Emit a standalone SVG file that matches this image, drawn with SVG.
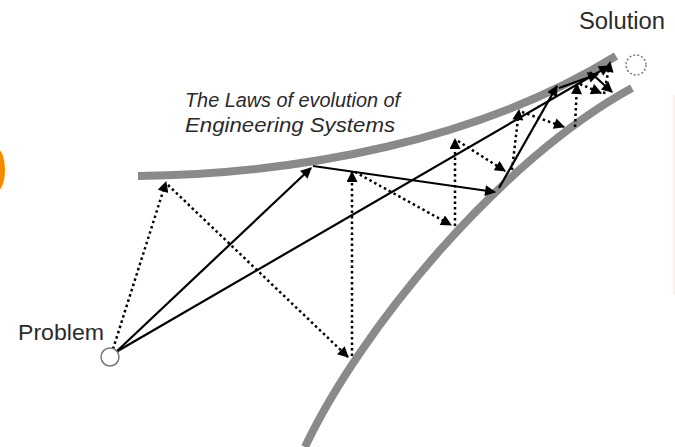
<svg xmlns="http://www.w3.org/2000/svg" width="675" height="447" viewBox="0 0 675 447">
  <style>
    .wall { fill: none; stroke: #8a8a8a; stroke-width: 8; stroke-linecap: butt; }
    .solid { fill: none; stroke: #000; stroke-width: 2.2; marker-end: url(#ah); }
    .dot { fill: none; stroke: #000; stroke-width: 2.5; stroke-dasharray: 2.5 3; marker-end: url(#ah); }
    .node { fill: #fff; stroke: #777; stroke-width: 1.5; }
    .lbl { font-family: "Liberation Sans", Arial, sans-serif; fill: #2a2a2a; }
  </style>
  <defs>
    <marker id="ah" viewBox="0 0 10 10" refX="9" refY="5" markerUnits="userSpaceOnUse" markerWidth="13" markerHeight="11" orient="auto">
      <path d="M0,0 L10,5 L0,10 z" fill="#000"/>
    </marker>
  </defs>
  <rect width="675" height="447" fill="#fff"/>
  <ellipse cx="-3" cy="170" rx="8" ry="21" fill="#f28a00"/>
  <rect x="673" y="95" width="2" height="200" fill="#fdf0ec"/>

  <g id="walls">
    <path id="upper-wall" class="wall" d="M138,176 C300,174 480,140 616,56"/>
    <path id="lower-wall" class="wall" d="M305,447 C360,330 500,160 632,88"/>
  </g>

  <g id="laws-label">
    <text class="lbl" x="185" y="107" font-size="20" font-style="italic" textLength="215" lengthAdjust="spacingAndGlyphs">The Laws of evolution of</text>
    <text class="lbl" x="185" y="132" font-size="20" font-style="italic" textLength="210" lengthAdjust="spacingAndGlyphs">Engineering Systems</text>
  </g>

  <g id="connectors">
    <!-- trial-and-error path (dotted) -->
    <path class="dot" d="M113,349 L166,182"/>
    <path class="dot" d="M168,185 L348,357"/>
    <path class="dot" d="M352,356 L352,172"/>
    <path class="dot" d="M355,172 L451,225"/>
    <path class="dot" d="M455,226 L455,139"/>
    <path class="dot" d="M458,141 L505,171"/>
    <path class="dot" d="M512,170 L519,110"/>
    <path class="dot" d="M522,112 L564,127"/>
    <path class="dot" d="M575,127 L577,84"/>
    <path class="dot" d="M580,84 L601,93"/>
    <path class="dot" d="M604,94 L610,62"/>
    <!-- directed path (solid) -->
    <path class="solid" d="M116,352 L311,168"/>
    <path class="solid" d="M116,352 L609,66"/>
    <path class="solid" d="M313,166 L495,192"/>
    <path class="solid" d="M499,188 L557,86"/>
    <path class="solid" d="M559,88 L598,74"/>
    <path class="solid" d="M590,72 L612,92"/>
  </g>

  <g id="problem">
    <circle class="node" cx="110" cy="357" r="9"/>
    <text class="lbl" x="18" y="340" font-size="22" textLength="86" lengthAdjust="spacingAndGlyphs">Problem</text>
  </g>
  <g id="solution">
    <circle class="node" cx="636" cy="65" r="10" stroke-dasharray="2 2"/>
    <text class="lbl" x="579" y="29" font-size="23" textLength="86" lengthAdjust="spacingAndGlyphs">Solution</text>
  </g>
</svg>
